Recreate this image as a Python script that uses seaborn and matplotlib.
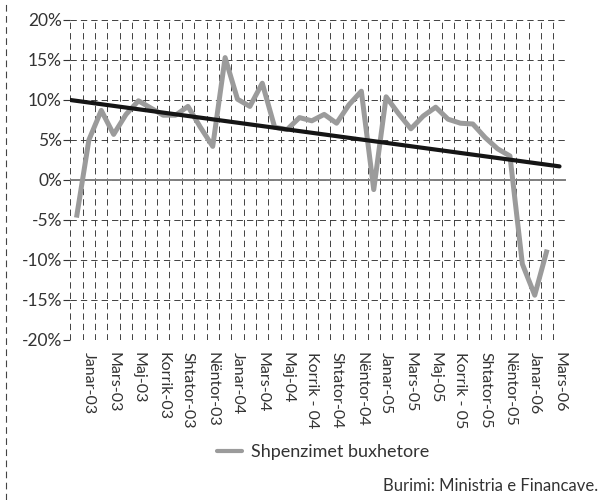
import numpy as np
import pandas as pd
import matplotlib.pyplot as plt
import seaborn as sns
from matplotlib.lines import Line2D

months = ['Jan-03', 'Shk-03', 'Mar-03', 'Pri-03', 'Maj-03', 'Qer-03', 'Kor-03', 'Gus-03',
          'Sht-03', 'Tet-03', 'Nen-03', 'Dhj-03', 'Jan-04', 'Shk-04', 'Mar-04', 'Pri-04',
          'Maj-04', 'Qer-04', 'Kor-04', 'Gus-04', 'Sht-04', 'Tet-04', 'Nen-04', 'Dhj-04',
          'Jan-05', 'Shk-05', 'Mar-05', 'Pri-05', 'Maj-05', 'Qer-05', 'Kor-05', 'Gus-05',
          'Sht-05', 'Tet-05', 'Nen-05', 'Dhj-05', 'Jan-06', 'Shk-06', 'Mar-06']

spending = [-4.7, 5.0, 8.7, 5.7, 8.2, 9.9, 9.0, 8.1, 8.1, 9.2, 6.6, 4.2, 15.3,
            10.1, 9.2, 12.1, 6.6, 6.3, 7.8, 7.4, 8.2, 7.1, 9.4, 11.1, -1.2,
            10.4, 8.3, 6.4, 8.0, 9.1, 7.6, 7.1, 7.0, 5.3, 3.9, 3.0, -10.5,
            -14.4, -8.7]

trend_x = [-0.5, 39.0]
trend_y = [10.0, 1.7]

tick_labels = ['Janar-03', 'Mars-03', 'Maj-03', 'Korrik-03', 'Shtator-03', 'Nëntor-03',
               'Janar-04', 'Mars-04', 'Maj-04', 'Korrik - 04', 'Shtator-04', 'Nëntor-04',
               'Janar-05', 'Mars-05', 'Maj-05', 'Korrik - 05', 'Shtator-05', 'Nëntor-05',
               'Janar-06', 'Mars-06']

y_ticks = [-20, -15, -10, -5, 0, 5, 10, 15, 20]

df = pd.DataFrame({'idx': np.arange(len(months)), 'value': spending})
trend_df = pd.DataFrame({'idx': trend_x, 'value': trend_y})

sns.set_style('white')
plt.rcParams['font.family'] = ['Lato', 'DejaVu Sans']
text_color = '#333333'

fig = plt.figure(figsize=(6.05, 5.0), dpi=100)
ax = fig.add_axes([70.3 / 605, 1 - 340 / 500, (565.7 - 70.3) / 605, 320 / 500])

dash = (0, (7, 4.5))
ax.set_xlim(-0.5, 39.5)
ax.set_ylim(-20, 20)
ax.set_xticks(np.arange(-0.5, 40, 1.0), minor=True)
ax.set_xticks(np.arange(1, 40, 2))
ax.set_xticklabels(tick_labels, rotation=-90, fontsize=11.5, color=text_color)
ax.set_yticks(y_ticks)
ax.set_yticklabels([f'{v}%' for v in y_ticks], fontsize=12.5, color=text_color)
ax.grid(False)
ax.grid(axis='x', which='minor', color='#333333', linestyle=dash, linewidth=0.65)
ax.grid(axis='y', which='major', color='#333333', linestyle=dash, linewidth=0.65)
ax.axhline(0, color='#808080', linewidth=1.4, zorder=2)
for s in ax.spines.values():
    s.set_visible(False)
ax.tick_params(axis='x', which='both', length=0, pad=9)
ax.tick_params(axis='y', which='major', length=5, width=0.8, color='#333333', pad=1, left=True)

sns.lineplot(data=df, x='idx', y='value', ax=ax, color='#9b9b9b', linewidth=3.6,
             label='Shpenzimet buxhetore', zorder=4, solid_joinstyle='round',
             solid_capstyle='butt')
sns.lineplot(data=trend_df, x='idx', y='value', ax=ax, color='#151515', linewidth=3.0,
             zorder=5, legend=False)
ax.set_xlabel('')
ax.set_ylabel('')

ax.legend_.remove()
handle = Line2D([], [], color='#9b9b9b', linewidth=3.0)
fig.legend([handle], ['Shpenzimet buxhetore'], loc='center left',
           bbox_to_anchor=(217 / 605, 1 - 452 / 500), frameon=False, fontsize=13,
           handlelength=1.4, handletextpad=0.5, borderpad=0, borderaxespad=0,
           labelcolor=text_color)

fig.text(598 / 605, 1 - 486 / 500, 'Burimi: Ministria e Financave.', ha='right',
         va='center', fontsize=12, color=text_color)

fig.add_artist(Line2D([6 / 605, 6 / 605], [0, 1], transform=fig.transFigure,
                      color='#444444', linewidth=0.8, linestyle=(0, (6, 4))))

fig.savefig('out.png', dpi=100)
